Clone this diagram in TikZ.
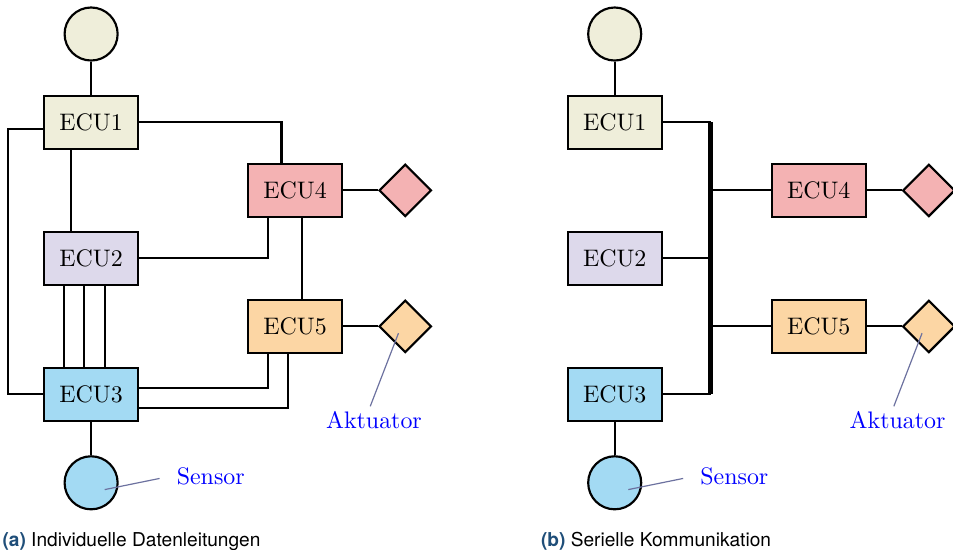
\documentclass[tikz,border=0pt]{standalone}
\usepackage{fontspec}
\newfontfamily\capfont{TeX Gyre Heros}
\usepackage{tikz}
\usetikzlibrary{positioning,calc,shapes.geometric}
\definecolor{ecuone}{HTML}{EFEEDA}
\definecolor{ecutwo}{HTML}{DDD9EB}
\definecolor{ecuthree}{HTML}{A3DAF3}
\definecolor{ecufour}{HTML}{F4B2B3}
\definecolor{ecufive}{HTML}{FCD6A4}
\definecolor{pinclr}{HTML}{6C719F}
\definecolor{capblue}{HTML}{1F4E79}
\tikzset{
  ecu/.style={draw=black,line width=0.9pt,minimum width=13.8mm,minimum height=7.8mm,inner sep=0pt,align=center},
  sensorc/.style={circle,draw=black,line width=0.9pt,minimum size=7.8mm,inner sep=0pt},
  actd/.style={diamond,draw=black,line width=0.9pt,minimum width=7.7mm,minimum height=7.7mm,inner sep=0pt},
  wire/.style={draw=black,line width=0.9pt},
  bus/.style={draw=black,line width=1.8pt},
  pinline/.style={draw=pinclr,line width=0.5pt},
  lbl/.style={text=blue,inner sep=2pt},
  captxt/.style={font=\capfont\fontsize{8}{10}\selectfont,inner sep=0pt}}
\begin{document}
\begin{tikzpicture}
  \useasboundingbox (0,0) rectangle (14.015,-8.088);
  % (a) individual lines
  \node[sensorc,fill=ecuone] (c1) at (1.34,-0.50) {};
  \node[ecu,fill=ecuone]   (e1) at (1.34,-1.80) {ECU1};
  \node[ecu,fill=ecutwo]   (e2) at (1.34,-3.80) {ECU2};
  \node[ecu,fill=ecuthree] (e3) at (1.34,-5.80) {ECU3};
  \node[sensorc,fill=ecuthree] (s3) at (1.34,-7.10) {};
  \node[ecu,fill=ecufour]  (e4) at (4.34,-2.80) {ECU4};
  \node[ecu,fill=ecufive]  (e5) at (4.34,-4.80) {ECU5};
  \node[actd,fill=ecufour] (d4) at (5.96,-2.80) {};
  \node[actd,fill=ecufive] (d5) at (5.96,-4.80) {};
  \draw[wire] (c1.south) -- (e1.north);
  \draw[wire] (e3.south) -- (s3.north);
  \draw[wire] (e4.east) -- (d4.west);
  \draw[wire] (e5.east) -- (d5.west);
  \draw[wire] (e1.east) -| ($(e4.north)+(-0.2,0)$);
  \draw[wire] ($(e1.west)+(0,-0.1)$) -- ++(-0.52,0) |- (e3.west);
  \draw[wire] ($(e1.south)+(-0.3,0)$) -- ($(e2.north)+(-0.3,0)$);
  \draw[wire] (e2.east) -| ($(e4.south)+(-0.4,0)$);
  \draw[wire] ($(e4.south)+(0.1,0)$) -- ($(e5.north)+(0.1,0)$);
  \foreach \dx in {-0.4,-0.1,0.2}{\draw[wire] ($(e2.south)+(\dx,0)$) -- ($(e3.north)+(\dx,0)$);}
  \draw[wire] ($(e3.east)+(0,0.1)$) -| ($(e5.south)+(-0.4,0)$);
  \draw[wire] ($(e3.east)+(0,-0.2)$) -| ($(e5.south)+(-0.1,0)$);
  \node[lbl] (senslbl) at (3.10,-7.00) {Sensor};
  \node[lbl] (aktlbl) at (5.50,-6.18) {Aktuator};
  \coordinate (sdot) at ($(s3.center)+(0.2,-0.1)$);
  \coordinate (adot) at ($(d5.center)+(-0.1,-0.1)$);
  \draw[pinline,shorten >=1.8mm] (sdot) -- (senslbl.west);
  \draw[pinline] (adot) -- (aktlbl.105);
  \node[captxt,anchor=base west] (capa) at (0.03,-8.03) {\textbf{\color{capblue}(a)} Individuelle Datenleitungen};
  % (b) serial bus
  \node[sensorc,fill=ecuone] (rc1) at (9.04,-0.50) {};
  \node[ecu,fill=ecuone]   (r1) at (9.04,-1.80) {ECU1};
  \node[ecu,fill=ecutwo]   (r2) at (9.04,-3.80) {ECU2};
  \node[ecu,fill=ecuthree] (r3) at (9.04,-5.80) {ECU3};
  \node[sensorc,fill=ecuthree] (rs3) at (9.04,-7.10) {};
  \node[ecu,fill=ecufour]  (r4) at (12.04,-2.80) {ECU4};
  \node[ecu,fill=ecufive]  (r5) at (12.04,-4.80) {ECU5};
  \node[actd,fill=ecufour] (rd4) at (13.66,-2.80) {};
  \node[actd,fill=ecufive] (rd5) at (13.66,-4.80) {};
  \coordinate (bt) at (10.45,-1.80);
  \coordinate (bb) at (10.45,-5.80);
  \draw[bus] (bt) -- (bb);
  \draw[wire] (rc1.south) -- (r1.north);
  \draw[wire] (r3.south) -- (rs3.north);
  \draw[wire] (r4.east) -- (rd4.west);
  \draw[wire] (r5.east) -- (rd5.west);
  \foreach \r in {r1,r2,r3}{\draw[wire] (\r.east) -- (\r.east -| bt);}
  \foreach \r in {r4,r5}{\draw[wire] (bt |- \r.west) -- (\r.west);}
  \node[lbl] (rsenslbl) at (10.80,-7.00) {Sensor};
  \node[lbl] (raktlbl) at (13.20,-6.18) {Aktuator};
  \coordinate (rsdot) at ($(rs3.center)+(0.2,-0.1)$);
  \coordinate (radot) at ($(rd5.center)+(-0.1,-0.1)$);
  \draw[pinline,shorten >=1.8mm] (rsdot) -- (rsenslbl.west);
  \draw[pinline] (radot) -- (raktlbl.105);
  \node[captxt,anchor=base west] (capb) at (7.95,-8.03) {\textbf{\color{capblue}(b)} Serielle Kommunikation};
\end{tikzpicture}
\end{document}
